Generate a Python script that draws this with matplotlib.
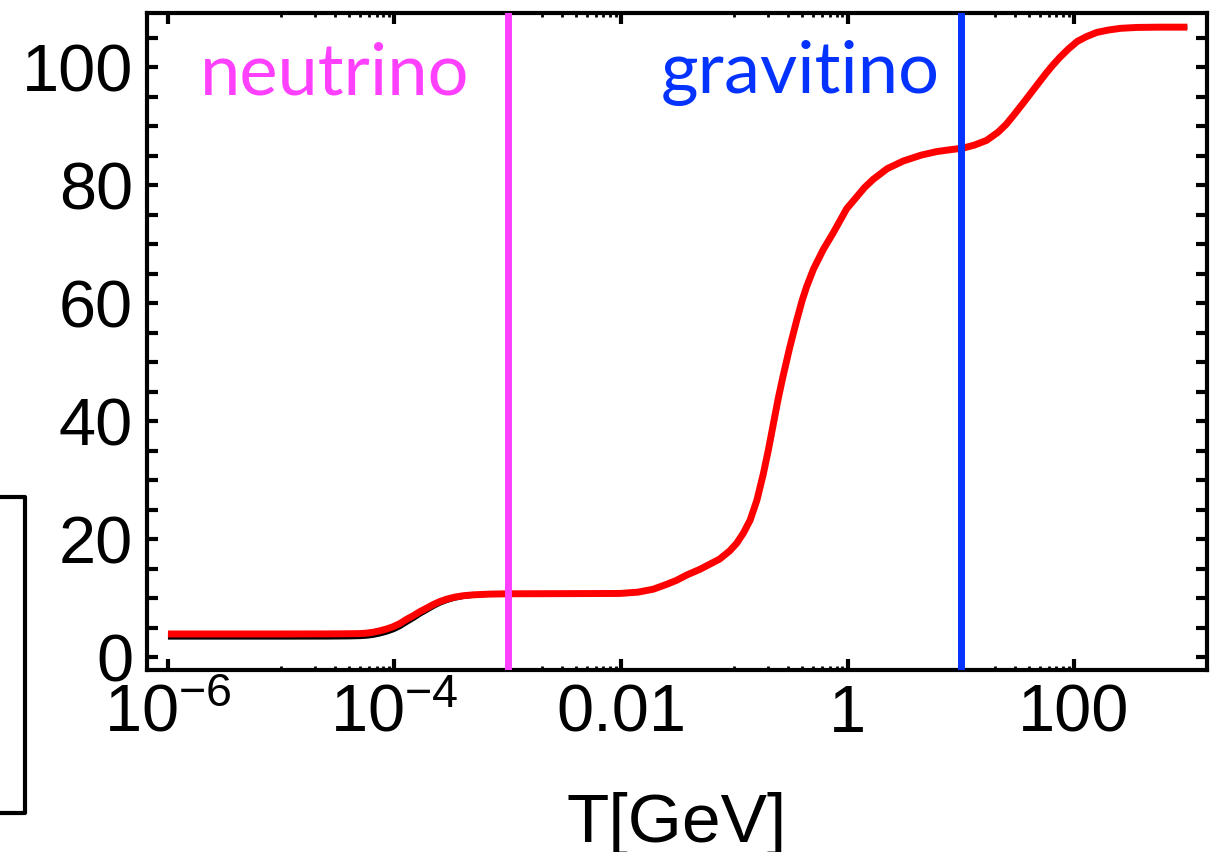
import numpy as np
import matplotlib
matplotlib.use('Agg')
import matplotlib.pyplot as plt
from matplotlib.lines import Line2D
from matplotlib.ticker import NullFormatter

plt.rcParams['font.family'] = ['Liberation Sans', 'DejaVu Sans']
plt.rcParams['mathtext.fontset'] = 'custom'
plt.rcParams['mathtext.rm'] = 'Liberation Sans'
plt.rcParams['mathtext.it'] = 'Liberation Sans:italic'

# log10 of T [GeV] and the effective degrees of freedom
logT = [-6.0, -5.0, -4.6, -4.4, -4.3, -4.245, -4.19, -4.128, -4.07, -4.01, -3.95, -3.892,
        -3.83, -3.775, -3.715, -3.657, -3.6, -3.54, -3.47, -3.39, -3.3, -3.157, -3.0,
        -2.5, -2.009, -1.85, -1.715, -1.6, -1.51, -1.42, -1.30, -1.13, -1.04, -0.978,
        -0.92, -0.86, -0.80, -0.744, -0.70, -0.655, -0.61, -0.567, -0.51, -0.45, -0.40,
        -0.361, -0.30, -0.214, -0.13, -0.06, -0.008, 0.08, 0.15, 0.227, 0.35, 0.492,
        0.65, 0.787, 0.9, 1.022, 1.12, 1.228, 1.33, 1.40, 1.464, 1.55, 1.61, 1.670,
        1.75, 1.81, 1.876, 1.95, 2.03, 2.11, 2.2, 2.3, 2.41, 2.55, 2.75, 3.0]
g_red = [3.91, 3.91, 3.92, 3.95, 3.98, 4.05, 4.2, 4.45, 4.75, 5.15, 5.7, 6.4,
         7.05, 7.7, 8.3, 8.9, 9.4, 9.8, 10.15, 10.4, 10.55, 10.67, 10.72,
         10.75, 10.78, 11.0, 11.5, 12.3, 13.0, 13.9, 14.9, 16.6, 18.0, 19.3,
         21.0, 23.2, 26.6, 31.0, 35.0, 39.5, 44.0, 47.8, 52.5, 57.0, 60.5,
         62.8, 65.8, 69.1, 71.8, 74.2, 76.0, 78.0, 79.6, 81.0, 82.8, 84.1,
         85.1, 85.7, 86.0, 86.3, 86.8, 87.6, 89.0, 90.3, 91.8, 93.9, 95.4, 96.9,
         98.9, 100.3, 101.7, 103.1, 104.4, 105.2, 105.9, 106.3, 106.6, 106.75, 106.8, 106.8]
# the black curve only differs from the red one below T ~ 1e-3
g_black_low = [3.36, 3.36, 3.37, 3.40, 3.45, 3.52, 3.65, 3.9, 4.2, 4.6, 5.15, 5.85,
               6.55, 7.25, 7.9, 8.55, 9.1, 9.55, 9.95, 10.25, 10.45, 10.62, 10.7]
g_black = g_black_low + g_red[len(g_black_low):]

T_neutrino = 1e-3
T_gravitino = 10.0

xticks = [1e-6, 1e-4, 1e-2, 1, 100]
xticklabels = [r'$10^{-6}$', r'$10^{-4}$', '0.01', '1', '100']
yticks = [0, 20, 40, 60, 80, 100]

T = 10.0 ** np.array(logT)

fig = plt.figure(figsize=(12.17, 8.52), dpi=100)
ax = fig.add_axes([147/1217, 1 - 670/852, (1207-147)/1217, (670-13)/852])

ax.plot(T, g_black, color='black', lw=3.5, solid_capstyle='butt', solid_joinstyle='round', zorder=2)
ax.plot(T, g_red, color='#ff0000', lw=5, solid_capstyle='butt', solid_joinstyle='round', zorder=3)
ax.axvline(T_neutrino, color='#ff40ff', lw=5, zorder=4)
ax.axvline(T_gravitino, color='#0433ff', lw=5, zorder=4)

ax.text(10**-4.525, 95.3, 'neutrino', color='#ff40ff', fontsize=52, family=['Lato', 'DejaVu Sans'],
        ha='center', va='baseline')
ax.text(10**-0.42, 95.6, 'gravitino', color='#0433ff', fontsize=52, family=['Lato', 'DejaVu Sans'],
        ha='center', va='baseline')

ax.set_xscale('log')
ax.set_xlim(10**-6.185, 10**3.174)
ax.set_ylim(-2.2, 109.2)

ax.set_xticks(xticks)
ax.set_xticklabels(xticklabels)
minors = [k * 10.0**e for e in [-5, -3, -1, 1] for k in range(1, 10)]
ax.set_xticks(minors, minor=True)
ax.xaxis.set_minor_formatter(NullFormatter())
ax.set_yticks(yticks)
ax.set_yticks(np.arange(0, 110, 5), minor=True)

ax.tick_params(which='both', direction='in', top=True, right=True, width=3, labelsize=48)
ax.tick_params(axis='x', which='major', length=8, pad=10)
ax.tick_params(axis='x', which='minor', length=3, width=2)
ax.tick_params(axis='y', which='both', length=8, pad=10)

for s in ax.spines.values():
    s.set_linewidth(3)

ax.set_xlabel('T[GeV]', fontsize=50, labelpad=33)

# part of a box cut off at the left edge of the picture
W, H = 1217, 852
fig.add_artist(Line2D([0, 25/W, 25/W, 0], [1 - 497/H, 1 - 497/H, 1 - 813/H, 1 - 813/H],
                      transform=fig.transFigure, color='black', lw=3))

fig.savefig('out.png', dpi=100)
